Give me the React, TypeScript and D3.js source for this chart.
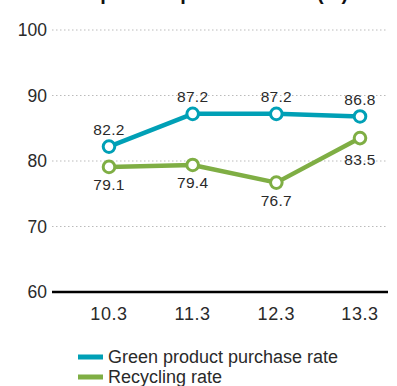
import React from "react";
import * as d3 from "d3";

const categories = ["10.3", "11.3", "12.3", "13.3"];
const greenPurchase = [82.2, 87.2, 87.2, 86.8];
const recycling = [79.1, 79.4, 76.7, 83.5];
const yTicks = [60, 70, 80, 90, 100];
const seriesNames = ["Green product purchase rate", "Recycling rate"];
const title = "Green product purchase rate (%)";

const W = 397;
const H = 386;
const TEAL = "#00a0b6";
const GREEN = "#7fae44";
const FONT = "'Liberation Sans', Arial, Helvetica, sans-serif";
const TXT = "#2a2a2a";

export default function App() {
  const x = d3.scalePoint<string>().domain(categories).range([109, 360]);
  const y = d3.scaleLinear().domain([60, 100]).range([292, 30]);
  const line = d3
    .line<number>()
    .x((_, i) => x(categories[i]) as number)
    .y((d) => y(d));

  const series = [
    { values: greenPurchase, color: TEAL },
    { values: recycling, color: GREEN },
  ];

  return (
    <svg
      width={W}
      height={H}
      style={{ position: "absolute", left: 0, top: 0, background: "#fff" }}
      fontFamily={FONT}
    >
      <text x={37} y={0} fontSize={20} fontWeight="bold" fill="#111">
        {title}
      </text>
      {yTicks.map((t) => (
        <g key={t}>
          {t !== 60 && (
            <line
              x1={52}
              x2={387}
              y1={y(t)}
              y2={y(t)}
              stroke="#bbb"
              strokeWidth={1}
              strokeDasharray="1.5,2.5"
            />
          )}
          <text
            x={47}
            y={y(t)}
            dy="0.35em"
            textAnchor="end"
            fontSize={17.5}
            fill={TXT}
          >
            {t}
          </text>
        </g>
      ))}
      <line x1={52} x2={388} y1={y(60)} y2={y(60)} stroke="#000" strokeWidth={2.5} />
      {categories.map((c) => (
        <text
          key={c}
          x={x(c)}
          y={314}
          dy="0.35em"
          textAnchor="middle"
          fontSize={18}
          letterSpacing={0.6}
          fill={TXT}
        >
          {c}
        </text>
      ))}
      {series.map((s, si) => (
        <g key={si}>
          <path
            d={line(s.values) || ""}
            fill="none"
            stroke={s.color}
            strokeWidth={4.5}
            strokeLinejoin="round"
          />
          {s.values.map((v, i) => (
            <circle
              key={i}
              cx={x(categories[i])}
              cy={y(v)}
              r={5.8}
              fill="#fff"
              stroke={s.color}
              strokeWidth={3}
            />
          ))}
        </g>
      ))}
      {greenPurchase.map((v, i) => (
        <text
          key={"g" + i}
          x={x(categories[i])}
          y={y(v) - 17}
          dy="0.35em"
          textAnchor="middle"
          fontSize={15.5}
          letterSpacing={0.3}
          fill={TXT}
        >
          {v.toFixed(1)}
        </text>
      ))}
      {recycling.map((v, i) => (
        <text
          key={"r" + i}
          x={x(categories[i])}
          y={y(v) + (i === 3 ? 21 : 18)}
          dy="0.35em"
          textAnchor="middle"
          fontSize={15.5}
          letterSpacing={0.3}
          fill={TXT}
        >
          {v.toFixed(1)}
        </text>
      ))}
      {seriesNames.map((n, i) => (
        <g key={n} transform={`translate(78, ${357 + i * 20})`}>
          <rect x={0} y={-2.5} width={25} height={5} fill={i === 0 ? TEAL : GREEN} />
          <text x={30} y={0} dy="0.35em" fontSize={18} fill={TXT}>
            {n}
          </text>
        </g>
      ))}
    </svg>
  );
}
